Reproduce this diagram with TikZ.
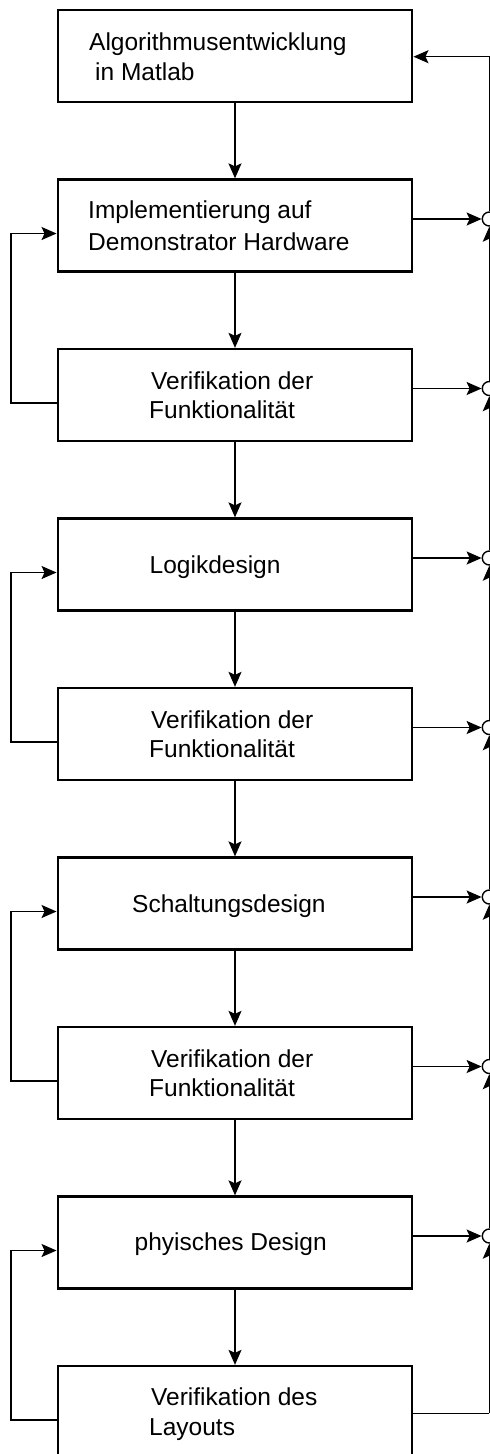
\documentclass[tikz,border=0pt]{standalone}
\usepackage{fontspec}
\setmainfont{Liberation Sans}
\usetikzlibrary{arrows.meta}

\tikzset{
  stepbox/.style={draw, line width=2.3pt, rectangle, minimum width=354.6pt, minimum height=92pt, inner sep=0pt},
  lbl/.style={anchor=base west, inner sep=0pt, font=\fontsize{24.5}{29}\selectfont},
  conn/.style={line width=1.4pt},
  arr/.style={conn, -{Stealth[length=15pt, width=13pt, inset=3pt]}},
  junction/.style={circle, draw, line width=1.4pt, fill=white, minimum size=14pt, inner sep=0pt},
}

\begin{document}
\begin{tikzpicture}[x=1pt, y=-1pt]
\useasboundingbox (0,0) rectangle (490,1454);
\clip (0,0) rectangle (490,1454);

% process steps
\node[stepbox] (b1) at (235,56)     {};
\node[stepbox] (b2) at (235,225.5)  {};
\node[stepbox] (b3) at (235,395)    {};
\node[stepbox] (b4) at (235,564.5)  {};
\node[stepbox] (b5) at (235,734)    {};
\node[stepbox] (b6) at (235,903.5)  {};
\node[stepbox] (b7) at (235,1073)   {};
\node[stepbox] (b8) at (235,1242.5) {};
\node[stepbox] (b9) at (235,1412)   {};

% step labels
\node[lbl] (t1a) at (89,50.7)  {Algorithmusentwicklung};
\node[lbl] (t1b) at (95,80)    {in Matlab};
\node[lbl] (t2a) at (88,218.3) {Implementierung auf};
\node[lbl] (t2b) at (88,250)   {Demonstrator Hardware};
\node[lbl] (t3a) at (151,389.3) {Verifikation der};
\node[lbl] (t3b) at (149,418.3) {Funktionalität};
\node[lbl] (t4)  at (149.5,573.3) {Logikdesign};
\node[lbl] (t5a) at (151,728.3) {Verifikation der};
\node[lbl] (t5b) at (149,757.3) {Funktionalität};
\node[lbl] (t6)  at (132,912.5) {Schaltungsdesign};
\node[lbl] (t7a) at (151,1067)  {Verifikation der};
\node[lbl] (t7b) at (149,1096)  {Funktionalität};
\node[lbl] (t8)  at (134.5,1250) {phyisches Design};
\node[lbl] (t9a) at (151,1405)  {Verifikation des};
\node[lbl] (t9b) at (149,1435)  {Layouts};

% junctions on the return path
\node[junction] (c2) at (489.3,219)    {};
\node[junction] (c3) at (489.3,388.5)  {};
\node[junction] (c4) at (489.3,558)    {};
\node[junction] (c5) at (489.3,727.5)  {};
\node[junction] (c6) at (489.3,897)    {};
\node[junction] (c7) at (489.3,1066.5) {};
\node[junction] (c8) at (489.3,1236)   {};
\coordinate (r9) at (489.3,1413.3);

% main flow
\foreach \a/\b in {b1/b2,b2/b3,b3/b4,b4/b5,b5/b6,b6/b7,b7/b8,b8/b9}
  \draw[arr] (\a.south) -- (\b.north);

% outputs into the return path
\foreach \i in {2,...,8}
  \draw[arr] (c\i.west -| b\i.east) -- (c\i.west);

% return path up the right side
\draw[conn] (r9 -| b9.east) -- (r9);
\draw[arr] (r9) -- (c8.south);
\foreach \lo/\hi in {8/7,7/6,6/5,5/4,4/3,3/2}
  \draw[arr] (c\lo.north) -- (c\hi.south);
\draw[arr] (c2.north) |- ([yshift=-0.7pt]b1.east);

% verification feedback loops on the left
\foreach \v/\s in {b3/b2,b5/b4,b7/b6,b9/b8}
  \draw[arr] ([yshift=-8pt]\v.west) -- ++(-45.7,0) |- ([yshift=-8pt]\s.west);
\end{tikzpicture}
\end{document}
